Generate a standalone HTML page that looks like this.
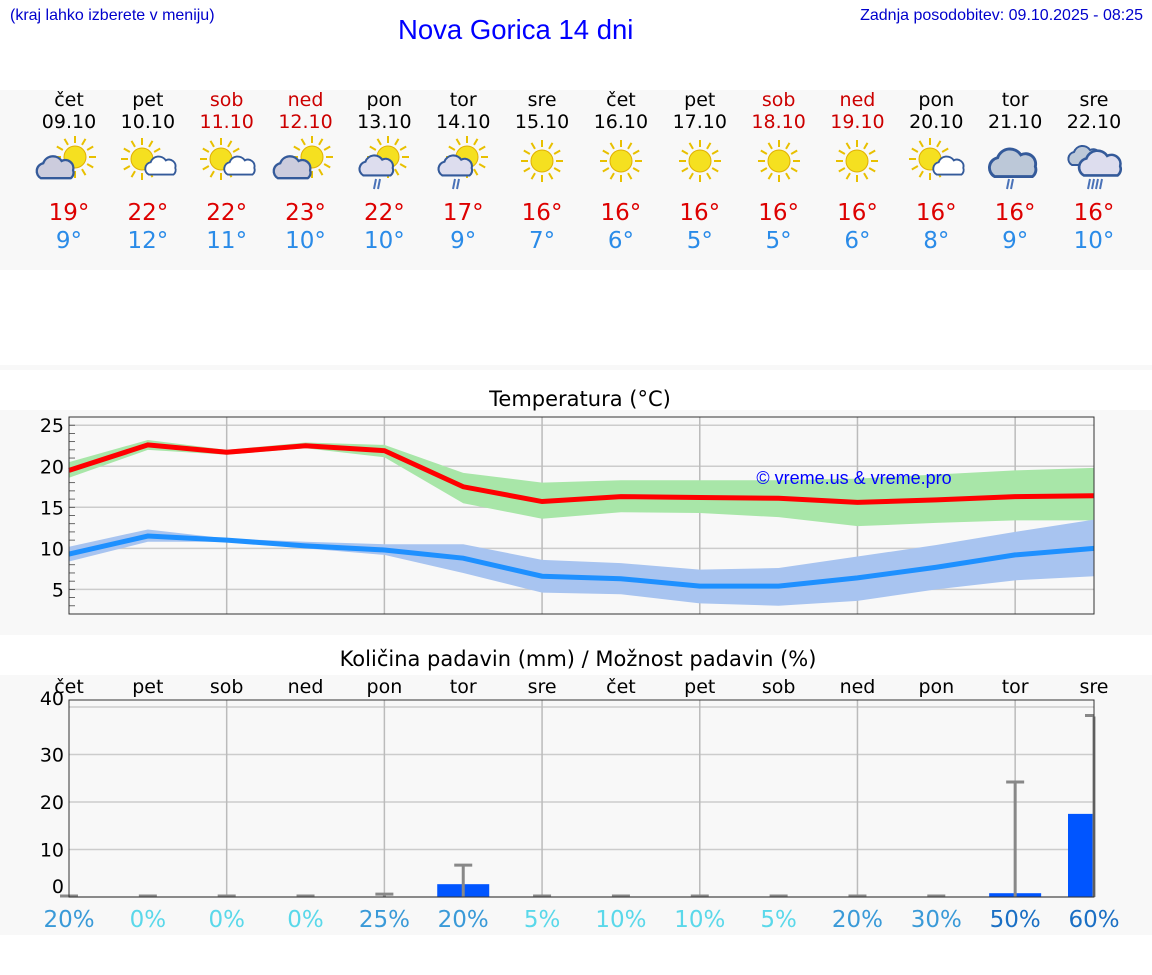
<!DOCTYPE html>
<html><head><meta charset="utf-8">
<style>
body{margin:0;width:1152px;height:975px;background:#fff;font-family:"DejaVu Sans","Liberation Sans",sans-serif;position:relative;overflow:hidden}
.a{position:absolute}
</style></head><body>
<div class="a" style="left:10px;top:7px;font-size:16px;color:#00c;font-family:'Liberation Sans',sans-serif">(kraj lahko izberete v meniju)</div>
<div class="a" style="left:398px;top:14px;font-size:27.5px;color:#00f;font-family:'Liberation Sans',sans-serif">Nova Gorica 14 dni</div>
<div class="a" style="right:9px;top:7px;font-size:16px;color:#00c;font-family:'Liberation Sans',sans-serif">Zadnja posodobitev: 09.10.2025 - 08:25</div>
<div class="a" style="left:0;top:90px;width:1152px;height:180px;background:#f8f8f8"></div>
<div class="a" style="left:0;top:365px;width:1152px;height:5px;background:#f8f8f8"></div>
<div class="a" style="left:0;top:410px;width:1152px;height:225px;background:#f8f8f8"></div>
<div class="a" style="left:0;width:1160px;top:387px;text-align:center;font-size:21px">Temperatura (°C)</div>
<div class="a" style="left:0;top:675px;width:1152px;height:260px;background:#f8f8f8"></div>
<div class="a" style="left:0;width:1156px;top:647px;text-align:center;font-size:21px">Količina padavin (mm) / Možnost padavin (%)</div>
<div id="strip"></div>
<svg id="ch" class="a" style="left:0;top:0" width="1152" height="975"></svg>
<script>
const days=["čet","pet","sob","ned","pon","tor","sre","čet","pet","sob","ned","pon","tor","sre"];
const dates=["09.10","10.10","11.10","12.10","13.10","14.10","15.10","16.10","17.10","18.10","19.10","20.10","21.10","22.10"];
const weekend=[0,0,1,1,0,0,0,0,0,1,1,0,0,0];
const icons=["pc","ps","ps","pc","rain","rain","s","s","s","s","s","ps","cr","cr2"];
const hiLabels=[19,22,22,23,22,17,16,16,16,16,16,16,16,16];
const loLabels=[9,12,11,10,10,9,7,6,5,5,6,8,9,10];
const tMax=[19.5,22.6,21.7,22.5,21.9,17.5,15.7,16.3,16.2,16.1,15.6,15.9,16.3,16.4];
const tMaxHi=[20.5,23.2,22.0,22.9,22.6,19.2,18.0,18.3,18.3,18.3,18.5,19.0,19.5,19.8];
const tMaxLo=[18.6,22.0,21.4,22.2,21.1,15.5,13.6,14.4,14.3,13.8,12.7,13.1,13.4,13.4];
const tMin=[9.3,11.5,11.0,10.3,9.8,8.8,6.6,6.3,5.4,5.4,6.4,7.7,9.2,10.0];
const tMinHi=[10.2,12.3,11.2,10.8,10.5,10.5,8.6,8.2,7.4,7.6,9.0,10.4,12.0,13.5];
const tMinLo=[8.4,10.8,10.8,10.0,9.2,7.0,4.6,4.4,3.3,3.0,3.6,5.0,6.1,6.6];
const rain=[0,0,0,0,0,2.7,0,0,0,0,0,0,0.8,17.5];
const rainErr=[0,0,0,0,0.4,6.5,0,0,0,0,0,0,24,38];
const prob=[20,0,0,0,25,20,5,10,10,5,20,30,50,60];
const tTicks=[5,10,15,20,25];
const rTicks=[0,10,20,30,40];
const NS="http://www.w3.org/2000/svg";
const X0=69,X1=1094;
const xs=i=>X0+i*(X1-X0)/13;
const ty=v=>614-(v-2)*(614-417)/24;
const ry=v=>897-v*4.75;
const svg=document.getElementById('ch');
function el(t,a,p){const e=document.createElementNS(NS,t);for(const k in a)e.setAttribute(k,a[k]);(p||svg).appendChild(e);return e;}
const strip=document.getElementById('strip');
function sunSvg(cx,cy,r){let s=`<circle cx="${cx}" cy="${cy}" r="${r}" fill="#f5e020" stroke="#e0b000" stroke-width="1"/>`;for(let k=0;k<12;k++){const a=k*Math.PI/6;s+=`<line x1="${cx+Math.cos(a)*(r+3)}" y1="${cy+Math.sin(a)*(r+3)}" x2="${cx+Math.cos(a)*(r+10)}" y2="${cy+Math.sin(a)*(r+10)}" stroke="#e8c000" stroke-width="2"/>`;}return s;}
function cloud(cx,cy,s,f){return `<g transform="translate(${cx},${cy}) scale(${s})"><path d="M-14,8 a7,7 0 0 1 2,-13 a9,9 0 0 1 16,-2 a7,7 0 0 1 10,8 a6,6 0 0 1 -2,7 z" fill="${f}" stroke="#345a9a" stroke-width="2"/></g>`;}
function drops(cx,cy,n){let s='';for(let k=0;k<n;k++)s+=`<line x1="${cx-6+k*4}" y1="${cy}" x2="${cx-8+k*4}" y2="${cy+10}" stroke="#4a72b8" stroke-width="2"/>`;return s;}
for(let i=0;i<14;i++){
 const c=xs(i);const col=weekend[i]?'#c00':'#000';
 const d=document.createElement('div');d.className='a';
 
 
 d.style.cssText=`left:${c-40}px;top:89px;width:80px;text-align:center;font-size:19px;color:${col};line-height:22px`;
 let ic='';const t=icons[i];
 if(t==='s')ic=sunSvg(40,28,11);
 else if(t==='ps')ic=sunSvg(34,26,11)+cloud(54,34,0.95,'#fff');
 else if(t==='pc')ic=sunSvg(46,24,11)+cloud(28,36,1.15,'#ccd');
 else if(t==='rain')ic=sunSvg(44,24,11)+cloud(34,34,1.05,'#dde')+drops(38,46,2);
 else if(t==='cr')ic=cloud(40,32,1.45,'#bcc8d8')+drops(40,46,2);
 else ic=cloud(32,24,1.0,'#bcc8d8')+cloud(48,32,1.3,'#dde')+drops(42,46,4);
 d.innerHTML=`<div>${days[i]}</div><div>${dates[i]}</div><svg width="80" height="66" style="display:block">${ic}</svg><div style="color:#d00;font-size:23px;line-height:28px;margin-top:0px">${hiLabels[i]}°</div><div style="color:#2a8be8;font-size:23px;line-height:28px">${loLabels[i]}°</div>`;
 strip.appendChild(d);
}
el('rect',{x:X0,y:417,width:X1-X0,height:197,fill:'#f8f8f8',stroke:'none'});
tTicks.forEach(v=>{el('line',{x1:X0,x2:X1,y1:ty(v),y2:ty(v),stroke:'#ccc','stroke-width':1.5});
 const t=el('text',{x:64,y:ty(v)+7,'text-anchor':'end','font-size':19,fill:'#000'});t.textContent=v;
 
 });
for(let v=3;v<26;v++)el('line',{x1:X0,x2:X0+6,y1:ty(v),y2:ty(v),stroke:'#444','stroke-width':0.8});
for(let i=2;i<13;i+=2)el('line',{x1:xs(i),x2:xs(i),y1:417,y2:614,stroke:'#bbb','stroke-width':1.5});
function band(hi,lo,fill,name){let p='M'+hi.map((v,i)=>xs(i)+','+ty(v)).join('L')+'L'+lo.map((v,i)=>xs(i)+','+ty(v)).reverse().join('L')+'Z';const e=el('path',{d:p,fill:fill});}
band(tMaxHi,tMaxLo,'#a8e6a8','max-range-band');
band(tMinHi,tMinLo,'#a8c4f0','min-range-band');
function line(v,c,name){const e=el('polyline',{points:v.map((a,i)=>xs(i)+','+ty(a)).join(' '),fill:'none',stroke:c,'stroke-width':5});}
line(tMax,'#f00','max-temp-line');line(tMin,'#1e90ff','min-temp-line');
el('rect',{x:X0,y:417,width:X1-X0,height:197,fill:'none',stroke:'#333','stroke-width':1});
const wm=el('text',{x:854,y:484,'text-anchor':'middle','font-size':18,fill:'#00f','font-family':'Liberation Sans'});wm.textContent='© vreme.us & vreme.pro';

el('rect',{x:X0,y:700,width:X1-X0,height:197,fill:'#f8f8f8'});
rTicks.forEach(v=>{el('line',{x1:X0,x2:X1,y1:ry(v),y2:ry(v),stroke:'#ccc','stroke-width':1.5});
 const t=el('text',{x:64,y:ry(v)+(v===0?-4:(v===40?-2:7)),'text-anchor':'end','font-size':19});t.textContent=v;
 });
for(let i=2;i<13;i+=2)el('line',{x1:xs(i),x2:xs(i),y1:700,y2:897,stroke:'#bbb','stroke-width':1.5});
for(let i=0;i<14;i++){
 const t=el('text',{x:xs(i),y:693,'text-anchor':'middle','font-size':19});t.textContent=days[i];
 
 if(rain[i]>0){const b=el('rect',{x:xs(i)-26,y:ry(rain[i]),width:Math.min(52,X1-xs(i)+26),height:897-ry(rain[i]),fill:'#0055ff'});
  }
 const e=rainErr[i];
 if(e>0)el('line',{x1:xs(i),x2:xs(i),y1:ry(e),y2:897,stroke:'#888','stroke-width':3});
 el('line',{x1:xs(i)-9,x2:Math.min(xs(i)+9,X1),y1:ry(e)-1,y2:ry(e)-1,stroke:'#888','stroke-width':3});
 const pc=prob[i]>=50?'#1a6fc4':prob[i]>=20?'#3a9ad8':'#5ad8ea';
 const p=el('text',{x:xs(i),y:927,'text-anchor':'middle','font-size':23,fill:pc});p.textContent=prob[i]+'%';
 
}
el('rect',{x:X0,y:700,width:X1-X0,height:197,fill:'none',stroke:'#333','stroke-width':1});
</script>
</body></html>
